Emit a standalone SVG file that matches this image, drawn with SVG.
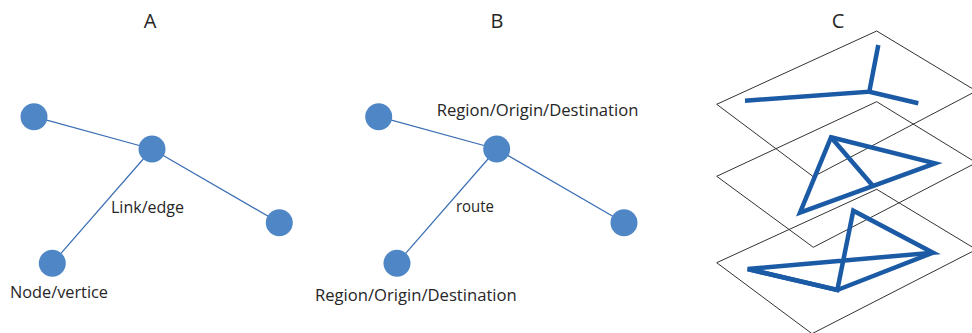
<svg xmlns="http://www.w3.org/2000/svg" width="972" height="333" viewBox="0 0 972 333">
  <style>
    .title { font-family: "Open Sans", "Noto Sans", sans-serif; font-size: 20px; fill: #262626; text-anchor: middle; }
    .label { font-family: "Open Sans", "Noto Sans", sans-serif; font-size: 16px; fill: #262626; }
    .node { fill: #4f86c6; }
    .edge { stroke: #3a6db4; stroke-width: 1.2; fill: none; }
    .plane { stroke: #333333; stroke-width: 1; fill: none; }
    .layer { stroke: #1b5aa5; stroke-width: 4.5; fill: none; stroke-linejoin: miter; stroke-linecap: butt; }
  </style>

  <!-- Panel titles -->
  <text class="title" x="150" y="28">A</text>
  <text class="title" x="497" y="28">B</text>
  <text class="title" x="838" y="28">C</text>

  <!-- Panel A: generic graph -->
  <g id="connectors-a">
    <line class="edge" x1="34" y1="116.7" x2="152" y2="149"/>
    <line class="edge" x1="152" y1="149" x2="279.3" y2="222.7"/>
    <line class="edge" x1="152" y1="149" x2="52.3" y2="263.3"/>
  </g>
  <g id="a-node-1"><circle class="node" cx="34" cy="116.7" r="13.5"/></g>
  <g id="a-node-hub"><circle class="node" cx="152" cy="149" r="13.5"/></g>
  <g id="a-node-right"><circle class="node" cx="279.3" cy="222.7" r="13.5"/></g>
  <g id="a-node-bottom"><circle class="node" cx="52.3" cy="263.3" r="13.5"/></g>
  <text class="label" x="111" y="213" textLength="73" lengthAdjust="spacingAndGlyphs">Link/edge</text>
  <text class="label" x="10" y="298" textLength="98" lengthAdjust="spacingAndGlyphs">Node/vertice</text>

  <!-- Panel B: transport network -->
  <g id="connectors-b">
    <line class="edge" x1="378.7" y1="116.7" x2="496.7" y2="149"/>
    <line class="edge" x1="496.7" y1="149" x2="624" y2="222.7"/>
    <line class="edge" x1="496.7" y1="149" x2="397" y2="263.3"/>
  </g>
  <g id="b-node-1"><circle class="node" cx="378.7" cy="116.7" r="13.5"/></g>
  <g id="b-node-hub"><circle class="node" cx="496.7" cy="149" r="13.5"/></g>
  <g id="b-node-right"><circle class="node" cx="624" cy="222.7" r="13.5"/></g>
  <g id="b-node-bottom"><circle class="node" cx="397" cy="263.3" r="13.5"/></g>
  <text class="label" x="436.7" y="116" textLength="201.7" lengthAdjust="spacingAndGlyphs">Region/Origin/Destination</text>
  <text class="label" x="456" y="212" textLength="38" lengthAdjust="spacingAndGlyphs">route</text>
  <text class="label" x="315" y="301" textLength="201.7" lengthAdjust="spacingAndGlyphs">Region/Origin/Destination</text>

  <!-- Panel C: stacked network layers -->
  <g id="plane-1">
    <polygon class="plane" points="716.7,104.3 876.7,31 976.3,91 813.3,176.7"/>
    <polyline class="layer" points="745,100.7 869.3,91.7 878.3,45"/>
    <line class="layer" x1="869.3" y1="91.7" x2="918.3" y2="103.3"/>
  </g>
  <g id="plane-2">
    <polygon class="plane" points="716.7,176.3 876.7,101.7 976.3,162.7 813.3,247.3"/>
    <polygon class="layer" points="831,137.3 935,163.3 800,212.7"/>
    <line class="layer" x1="831" y1="137.3" x2="873" y2="186"/>
  </g>
  <g id="plane-3">
    <polygon class="plane" points="716.7,262.7 876.7,189.3 976.3,249.5 812,333.7"/>
    <polygon class="layer" points="747.7,269 933,252.7 853.3,210.7 837.3,290"/>
    <polyline class="layer" points="747.7,269 837.3,290 933,252.7"/>
  </g>
</svg>
